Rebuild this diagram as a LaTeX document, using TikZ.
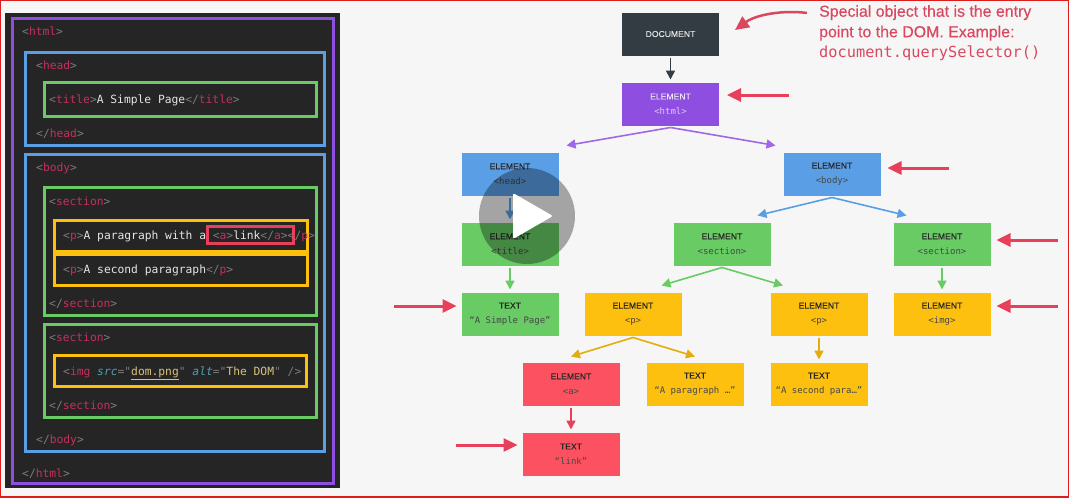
\documentclass[tikz,border=0pt]{standalone}
\usepackage{fontspec}
\setmainfont{Liberation Sans}
\setmonofont{DejaVu Sans Mono}
\newfontfamily\notefont[FakeBold=0.35]{Liberation Sans}
\newfontfamily\labelfont[FakeBold=0.25]{Liberation Sans}
\usetikzlibrary{arrows.meta, positioning}
\usepackage{xcolor}

\definecolor{pagebg}{HTML}{F6F6F6}
\definecolor{pageline}{HTML}{DD1C1C}
\definecolor{panelbg}{HTML}{252526}
\definecolor{docgray}{HTML}{323C42}
\definecolor{htmlpurple}{HTML}{8E4FE0}
\definecolor{headblue}{HTML}{5A9FE6}
\definecolor{secgreen}{HTML}{68CB64}
\definecolor{paryellow}{HTML}{FEC00F}
\definecolor{linkred}{HTML}{FC5160}
\definecolor{markred}{HTML}{E83F5B}
\definecolor{notered}{HTML}{D9485F}
\definecolor{tagpink}{HTML}{C5305A}
\definecolor{brackgray}{HTML}{7C7C7C}
\definecolor{attrblue}{HTML}{4E9FB5}
\definecolor{strtan}{HTML}{D8C27A}

\newcommand{\tagc}[1]{{\color{brackgray}<}{\color{tagpink}#1}{\color{brackgray}>}}
\newcommand{\tage}[1]{{\color{brackgray}</}{\color{tagpink}#1}{\color{brackgray}>}}
\newcommand{\plain}[1]{{\color{white!90!black}#1}}
\newcommand{\sublabel}[1]{{\ttfamily\fontsize{9}{15}\selectfont\color{black!72}#1}}

\begin{document}
\begin{tikzpicture}[
x=1pt, y=1pt,
node distance=27pt,
box/.style={rectangle, minimum width=97pt, minimum height=43pt, outer sep=0pt,
inner sep=0pt, align=center, font=\labelfont\fontsize{8.6}{15}\selectfont, text=black!85},
twoline/.style={box, execute at begin node={\rule{0pt}{9.2pt}}},
purplebox/.style={twoline, fill=htmlpurple, text=white!85!htmlpurple},
graybox/.style={box, fill=docgray, text=white!85!docgray},
bluebox/.style={twoline, fill=headblue},
greenbox/.style={twoline, fill=secgreen},
yellowbox/.style={twoline, fill=paryellow},
redbox/.style={twoline, fill=linkred},
frame/.style={draw, line width=3pt, inner sep=0pt},
code/.style={anchor=base west, inner sep=0pt, yshift=-4.6pt, font=\ttfamily\fontsize{11.3}{13}\selectfont},
arrow/.style={-{Triangle[length=9pt, width=9pt]}, line width=1.6pt},
markarrow/.style={-{Triangle[length=14pt, width=13pt]}, line width=3pt, markred}
]

\useasboundingbox (0,0) rectangle (1069,-498);
\fill[pagebg] (0,0) rectangle (1069,-498);
\draw[pageline, line width=2pt] (0,0) rectangle (1069,-497);

% code panel
\fill[panelbg] (5,-13) rectangle (340,-488);
\draw[frame, htmlpurple] (12,-18) rectangle (333,-483);
\draw[frame, headblue] (25,-52) rectangle (324,-145);
\draw[frame, secgreen] (44,-82) rectangle (316,-116);
\draw[frame, headblue] (25,-154) rectangle (324,-451);
\draw[frame, secgreen] (44,-187) rectangle (316,-315);
\draw[frame, paryellow] (54,-220) rectangle (307,-251);
\draw[frame, paryellow] (54,-254) rectangle (307,-285);
\draw[frame, secgreen] (44,-324) rectangle (316,-417);
\draw[frame, paryellow] (54,-355) rectangle (306,-386);
\draw[frame, markred] (207,-226) rectangle (293,-243);

\node[code] (line1) at (22,-31) {\tagc{html}};
\node[code] (line2) at (36,-65) {\tagc{head}};
\node[code] (line3) at (49,-99) {\tagc{title}\plain{A Simple Page}\tage{title}};
\node[code] (line4) at (36,-133) {\tage{head}};
\node[code] (line5) at (36,-167) {\tagc{body}};
\node[code] (line6) at (49,-201) {\tagc{section}};
\node[code] (line7) at (63,-235) {\tagc{p}\plain{A paragraph with a }\tagc{a}\plain{link}\tage{a}\tage{p}};
\node[code] (line8) at (63,-269) {\tagc{p}\plain{A second paragraph}\tage{p}};
\node[code] (line9) at (49,-303) {\tage{section}};
\node[code] (line10) at (49,-337) {\tagc{section}};
\node[code] (line11) at (63,-371) {{\color{brackgray}<}{\color{tagpink}img} {\color{attrblue}\itshape src}{\color{brackgray}="}{\color{strtan}\underline{dom.png}}{\color{brackgray}"} {\color{attrblue}\itshape alt}{\color{brackgray}="}{\color{strtan}The DOM}{\color{brackgray}"} {\color{brackgray}/>}};
\node[code] (line12) at (49,-405) {\tage{section}};
\node[code] (line13) at (36,-439) {\tage{body}};
\node[code] (line14) at (22,-473) {\tage{html}};

% tree
\node[graybox] (docu) at (670.5,-34) {DOCUMENT};
\node[purplebox, below=of docu] (html) {ELEMENT\\ {\ttfamily\fontsize{9}{15}\selectfont\color{white!70!htmlpurple}<html>}};
\node[bluebox, below=of html, xshift=-160.5pt] (head) {ELEMENT\\ \sublabel{<head>}};
\node[bluebox, below=of html, xshift=161.5pt] (body) {ELEMENT\\ \sublabel{<body>}};
\node[greenbox, below=of head] (title) {ELEMENT\\ \sublabel{<title>}};
\node[greenbox, below=of body, xshift=-110pt] (sec1) {ELEMENT\\ \sublabel{<section>}};
\node[greenbox, below=of body, xshift=110pt] (sec2) {ELEMENT\\ \sublabel{<section>}};
\node[greenbox, below=of title] (pagetext) {TEXT\\ \sublabel{“A Simple Page”}};
\node[yellowbox, below=of sec1, xshift=-89pt] (par1) {ELEMENT\\ \sublabel{<p>}};
\node[yellowbox, below=of sec1, xshift=97pt] (par2) {ELEMENT\\ \sublabel{<p>}};
\node[yellowbox, below=of sec2] (img) {ELEMENT\\ \sublabel{<img>}};
\node[redbox, below=of par1, xshift=-62pt] (anch) {ELEMENT\\ \sublabel{<a>}};
\node[yellowbox, below=of par1, xshift=62pt] (par1text) {TEXT\\ \sublabel{“A paragraph …”}};
\node[yellowbox, below=of par2] (par2text) {TEXT\\ \sublabel{“A second para…”}};
\node[redbox, below=of anch] (linktext) {TEXT\\ \sublabel{“link”}};

\draw[arrow, docgray] ([yshift=-2pt]docu.south) -- ([yshift=3pt]html.north);
\draw[arrow, htmlpurple!85!white] ([yshift=-2pt]html.south) -- ([shift={(8,7)}]head.north east);
\draw[arrow, htmlpurple!85!white] ([yshift=-2pt]html.south) -- ([shift={(-8,7)}]body.north west);
\draw[arrow, headblue] ([yshift=-2pt]head.south) -- ([yshift=3pt]title.north);
\draw[arrow, headblue] ([yshift=-2pt]body.south) -- ([shift={(-13,7)}]sec1.north east);
\draw[arrow, headblue] ([yshift=-2pt]body.south) -- ([shift={(13,7)}]sec2.north west);
\draw[arrow, secgreen] ([yshift=-2pt]title.south) -- ([yshift=3pt]pagetext.north);
\draw[arrow, secgreen] ([yshift=-2pt]sec1.south) -- ([shift={(-20,7)}]par1.north east);
\draw[arrow, secgreen] ([yshift=-2pt]sec1.south) -- ([shift={(12.5,7)}]par2.north west);
\draw[arrow, secgreen] ([yshift=-2pt]sec2.south) -- ([yshift=3pt]img.north);
\draw[arrow, paryellow!90!black] ([yshift=-2pt]par1.south) -- ([yshift=6pt]anch.north);
\draw[arrow, paryellow!90!black] ([yshift=-2pt]par1.south) -- ([yshift=6pt]par1text.north);
\draw[arrow, paryellow!90!black] ([yshift=-2pt]par2.south) -- ([yshift=3pt]par2text.north);
\draw[arrow, markred] ([yshift=-2pt]anch.south) -- ([yshift=3pt]linktext.north);

% notes
\node[anchor=north west, inner sep=0pt, align=left, text=notered, font=\notefont\fontsize{15.9}{20.5}\selectfont] (note) at (819,-5) {Special object that is the entry\\ point to the DOM. Example:\\ {\ttfamily\fontsize{15.3}{20.5}\selectfont document.querySelector()}};

\coordinate (docmark) at (807,-13);
\coordinate (htmlmark) at (789,-95);
\coordinate (bodymark) at (949,-168);
\coordinate (sec2mark) at (1058,-240);
\coordinate (imgmark) at (1058,-306);
\coordinate (pagemark) at (394,-306);
\coordinate (linkmark) at (456,-445);

\draw[markarrow, line width=2.5pt, notered] (docmark) .. controls (785,-10) and (757,-14) .. ([shift={(16,4)}]docu.east);
\draw[markarrow] (htmlmark) -- ([shift={(8,9)}]html.east);
\draw[markarrow] (bodymark) -- ([shift={(7,6)}]body.east);
\draw[markarrow] (sec2mark) -- ([shift={(6,4)}]sec2.east);
\draw[markarrow] (imgmark) -- ([shift={(6,8)}]img.east);
\draw[markarrow] (pagemark) -- ([shift={(-5,8)}]pagetext.west);
\draw[markarrow] (linkmark) -- ([shift={(-5,9)}]linktext.west);

% play button
\node[circle, fill=black, opacity=0.33, minimum size=96pt, inner sep=0pt] (play) at (527,-216) {};
\fill[white, rounded corners=1.5pt] (513,-193) -- (553,-216) -- (513,-239) -- cycle;

\end{tikzpicture}
\end{document}
